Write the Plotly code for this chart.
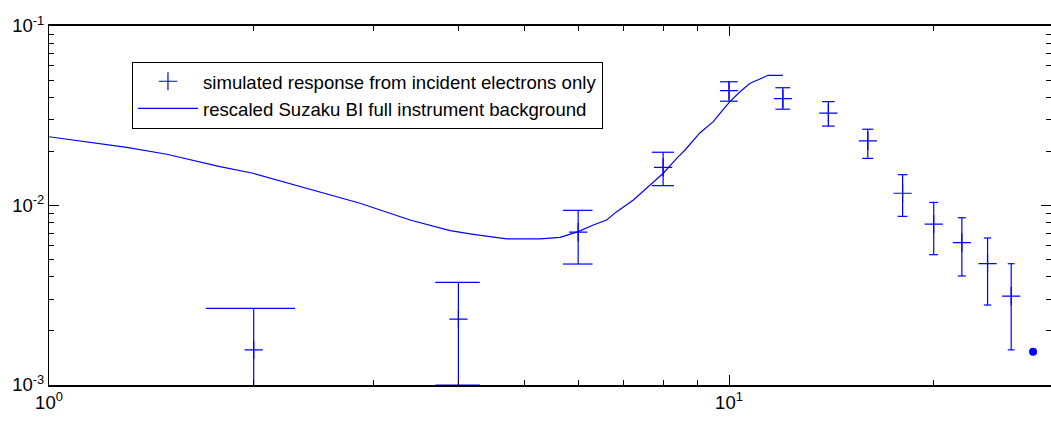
import plotly.graph_objects as go

# ---- data ----
energy = [2, 4, 6, 8, 10, 12, 14, 16, 18, 20, 22, 24, 26]
resp = [1.57e-3, 2.33e-3, 7.11e-3, 1.63e-2, 4.36e-2, 3.94e-2, 3.27e-2,
        2.29e-2, 1.17e-2, 7.88e-3, 6.21e-3, 4.74e-3, 3.13e-3]
resp_hi = [2.67e-3, 3.73e-3, 9.40e-3, 1.98e-2, 4.89e-2, 4.53e-2, 3.79e-2,
           2.66e-2, 1.485e-2, 1.04e-2, 8.55e-3, 6.59e-3, 4.74e-3]
resp_lo = [5.0e-4, 1.0e-3, 4.72e-3, 1.29e-2, 3.81e-2, 3.44e-2, 2.77e-2,
           1.83e-2, 8.70e-3, 5.32e-3, 4.05e-3, 2.79e-3, 1.57e-3]

extra_energy = [28]
extra_resp = [1.53e-3]

bg_energy = [1.0, 1.301, 1.490, 1.784, 1.995, 2.236, 2.476, 2.679, 2.867,
             3.396, 3.889, 4.207, 4.711, 5.274, 5.643, 6.003, 6.316, 6.608,
             6.838, 7.233, 7.568, 8.005, 8.377, 8.616, 9.066, 9.483, 9.808,
             10.03, 10.38, 10.74, 11.17, 11.41, 12.0]
bg_rate = [0.02416, 0.02110, 0.01929, 0.01645, 0.01512, 0.01340, 0.01209,
           0.01111, 0.01029, 0.00830, 0.00724, 0.00691, 0.00651, 0.00651,
           0.00665, 0.00715, 0.00779, 0.00830, 0.00924, 0.01073, 0.01247,
           0.01512, 0.01832, 0.02038, 0.02544, 0.02930, 0.03436, 0.03788,
           0.04305, 0.04795, 0.05113, 0.05313, 0.05313]

x_major = [1, 10]
x_major_text = ["10<sup>0</sup>", "10<sup>1</sup>"]
x_minor = [2, 3, 4, 5, 6, 7, 8, 9, 20, 30]
y_major = [1e-3, 1e-2, 1e-1]
y_major_text = ["10<sup>-3</sup>", "10<sup>-2</sup>", "10<sup>-1</sup>"]
y_minor = [2e-3, 3e-3, 4e-3, 5e-3, 6e-3, 7e-3, 8e-3, 9e-3,
           2e-2, 3e-2, 4e-2, 5e-2, 6e-2, 7e-2, 8e-2, 9e-2]

series_names = ["simulated response from incident electrons only",
                "rescaled Suzaku BI full instrument background"]

# ---- styling ----
BLUE = "#0000ff"
CAP_HALF = 0.3  # errorbar cap half-width in data units (Matlab-style)
FONT = "Liberation Sans, Arial, sans-serif"

# build error bar segments (vertical + caps) from the data
ex, ey = [], []
for x, lo, hi in zip(energy, resp_lo, resp_hi):
    ex += [x, x, None, x - CAP_HALF, x + CAP_HALF, None, x - CAP_HALF, x + CAP_HALF, None]
    ey += [lo, hi, None, hi, hi, None, lo, lo, None]

fig = go.Figure()
fig.add_trace(go.Scatter(x=ex, y=ey, mode="lines", line=dict(color=BLUE, width=1.2),
                         showlegend=False, hoverinfo="skip"))
fig.add_trace(go.Scatter(x=energy, y=resp, mode="markers", name=series_names[0],
                         marker=dict(symbol="cross-thin", size=13,
                                     line=dict(color=BLUE, width=1.2), color=BLUE)))
fig.add_trace(go.Scatter(x=bg_energy, y=bg_rate, mode="lines", name=series_names[1],
                         line=dict(color=BLUE, width=1.2)))
fig.add_trace(go.Scatter(x=extra_energy, y=extra_resp, mode="markers", showlegend=False,
                         marker=dict(symbol="circle", size=8, color=BLUE)))

axis_common = dict(showgrid=False, zeroline=False, showline=True, linecolor="black",
                   mirror="ticks", ticks="inside", tickcolor="black", ticklen=10,
                   tickwidth=1, automargin=False,
                   tickfont=dict(size=18.5, color="black", family=FONT))

fig.update_xaxes(type="log", range=[0, 1.4735], tickmode="array",
                 tickvals=x_major, ticktext=x_major_text, linewidth=1.5,
                 minor=dict(tickmode="array", tickvals=x_minor, ticks="inside",
                            ticklen=5, tickcolor="black", showgrid=False),
                 **axis_common)
fig.update_yaxes(type="log", range=[-3, -1], tickmode="array",
                 tickvals=y_major, ticktext=y_major_text, linewidth=1,
                 minor=dict(tickmode="array", tickvals=y_minor, ticks="inside",
                            ticklen=5, tickcolor="black", showgrid=False),
                 **axis_common)

fig.update_layout(
    width=1051, height=421,
    margin=dict(l=49, r=0, t=26, b=36),
    paper_bgcolor="white", plot_bgcolor="white",
    font=dict(family=FONT, color="black"),
    showlegend=True,
    legend=dict(x=0.0828, y=0.9006, xanchor="left", yanchor="top",
                bgcolor="white", bordercolor="black", borderwidth=1,
                font=dict(size=18.6, family=FONT, color="black"),
                itemwidth=60, tracegroupgap=0),
)

fig.write_html("out.html", config={"displayModeBar": False},
               post_script="document.body.style.margin='0';document.body.style.overflow='hidden';")
